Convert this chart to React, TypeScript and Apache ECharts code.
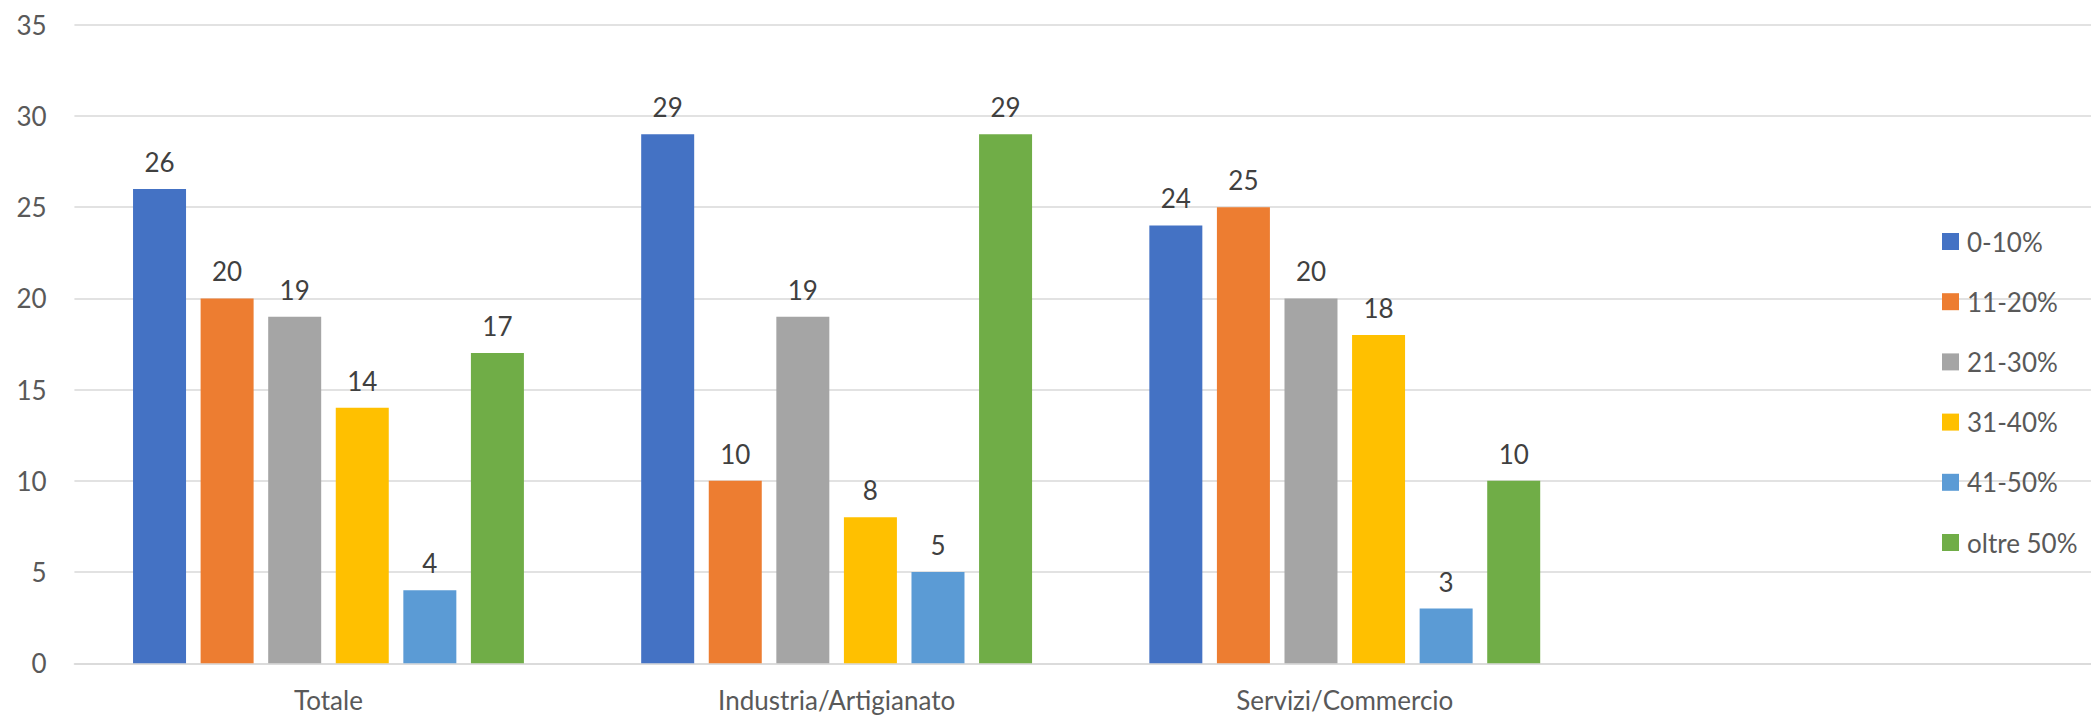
import React, { useEffect, useRef } from "react";
import * as echarts from "echarts";

const categories = ["Totale", "Industria/Artigianato", "Servizi/Commercio", ""];
const seriesNames = ["0-10%", "11-20%", "21-30%", "31-40%", "41-50%", "oltre 50%"];
const s0_10 = [26, 29, 24];
const s11_20 = [20, 10, 25];
const s21_30 = [19, 19, 20];
const s31_40 = [14, 8, 18];
const s41_50 = [4, 5, 3];
const sOltre50 = [17, 29, 10];
const seriesValues = [s0_10, s11_20, s21_30, s31_40, s41_50, sOltre50];
const colors = ["#4472C4", "#ED7D31", "#A5A5A5", "#FFC000", "#5B9BD5", "#70AD47"];

const FONT = "Lato";

export default function App() {
  const ref = useRef<HTMLDivElement>(null);
  useEffect(() => {
    if (!ref.current) return;
    const chart = echarts.init(ref.current, undefined, { renderer: "svg" });
    chart.setOption({
      animation: false,
      backgroundColor: "#ffffff",
      textStyle: { fontFamily: FONT },
      grid: {
        left: 74.4,
        right: -16,
        top: 24.7,
        bottom: 51.7,
        containLabel: false,
        outerBoundsMode: "none",
      },
      legend: {
        orient: "vertical",
        left: 1942,
        top: 228.5,
        padding: 0,
        itemWidth: 17,
        itemHeight: 17,
        itemGap: 34.2,
        icon: "rect",
        data: seriesNames,
        textStyle: {
          fontFamily: FONT,
          fontSize: 26,
          color: "#595959",
          lineHeight: 17,
          padding: [0, 0, 0, 3],
        },
      },
      xAxis: {
        type: "category",
        data: categories,
        axisLine: { lineStyle: { color: "#d9d9d9", width: 1.5 } },
        axisTick: { show: false },
        axisLabel: {
          fontFamily: FONT,
          fontSize: 26,
          color: "#595959",
          margin: 24,
        },
        splitLine: { show: false },
      },
      yAxis: {
        type: "value",
        min: 0,
        max: 35,
        interval: 5,
        axisLine: { show: false },
        axisTick: { show: false },
        axisLabel: {
          fontFamily: FONT,
          fontSize: 26,
          color: "#595959",
          margin: 27.7,
        },
        splitLine: { lineStyle: { color: "#d9d9d9", width: 1.5 } },
      },
      series: seriesNames.map((name, i) => ({
        name,
        type: "bar",
        data: seriesValues[i],
        barWidth: 53,
        barGap: "27.5%",
        itemStyle: { color: colors[i] },
        label: {
          show: true,
          position: "top",
          distance: 14,
          fontFamily: FONT,
          fontSize: 26,
          color: "#404040",
        },
      })),
    });
    return () => chart.dispose();
  }, []);
  return (
    <div
      ref={ref}
      style={{ position: "absolute", left: 0, top: 0, width: 2091, height: 715 }}
    />
  );
}
